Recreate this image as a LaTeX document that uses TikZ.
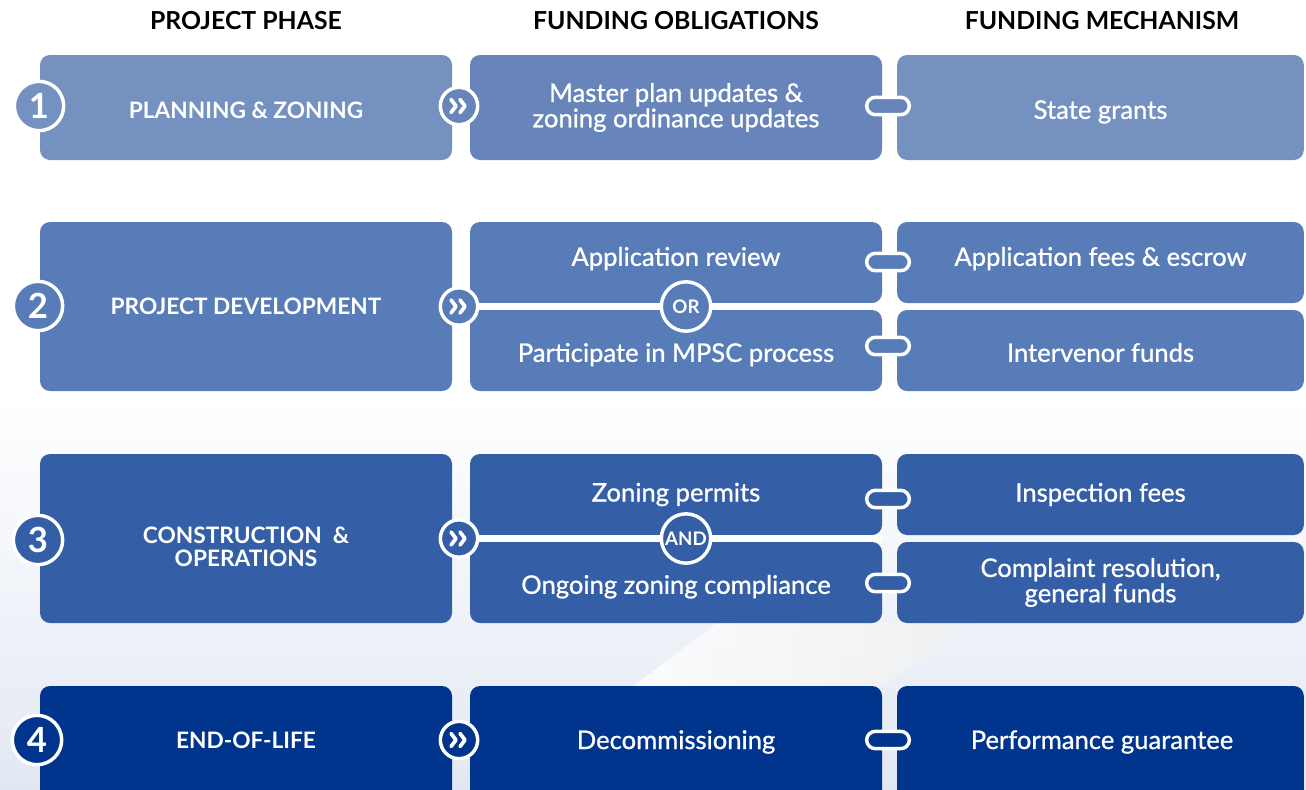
\documentclass[tikz,border=0pt]{standalone}
\usepackage{fontspec}
\setmainfont{Lato}
\newfontfamily\mediumfont{Lato}[FakeBold=0.9]
\usetikzlibrary{positioning}

\definecolor{rowA}{RGB}{116,145,192}
\definecolor{rowAmid}{RGB}{103,133,187}
\definecolor{rowB}{RGB}{88,124,183}
\definecolor{rowC}{RGB}{52,94,166}
\definecolor{rowD}{RGB}{1,52,140}
\definecolor{bgbottom}{RGB}{226,232,243}

\tikzset{
  head/.style={font=\bfseries\fontsize{18.6}{20}\selectfont, text=black},
  cell/.style={rounded corners=7.5pt, text=white, align=center, inner sep=0pt},
  phasecell/.style={cell, minimum width=309pt, font=\bfseries\fontsize{17}{17.5}\selectfont},
  dutycell/.style={cell, minimum width=309pt, font=\mediumfont\fontsize{19.2}{19}\selectfont},
  fundcell/.style={cell, minimum width=305pt, font=\mediumfont\fontsize{19.2}{19}\selectfont},
  raised/.style={text height=13pt, text depth=8pt},
  lowered/.style={text height=21pt, text depth=4pt},
  capslow/.style={text height=17pt, text depth=0pt},
  numdot/.style={circle, draw=white, line width=2.6pt, minimum size=37pt, inner sep=0pt,
    text=white, font=\bfseries\fontsize{26}{26}\selectfont},
  nextdot/.style={circle, draw=white, line width=2.6pt, minimum size=28pt, inner sep=0pt},
  chev/.style={white, line width=2.8pt, line cap=round, line join=round},
  logicdot/.style={circle, draw=white, line width=2.6pt, minimum size=37pt, inner sep=0pt,
    text=white, font=\bfseries\fontsize{14}{14}\selectfont},
  link/.style={rounded corners=6.5pt, draw=white, line width=2.6pt, minimum width=32pt,
    minimum height=13pt, inner sep=0pt},
  split/.style={white, line width=5pt}
}

% double chevron inside a step circle
\newcommand\chevrons[1]{%
  \draw[chev] ([shift={(-8,-6.5)}]#1.center) -- ++(5,6.5) -- ++(-5,6.5);
  \draw[chev] ([shift={(1,-6.5)}]#1.center) -- ++(5,6.5) -- ++(-5,6.5);
}

\begin{document}
\begin{tikzpicture}[x=0.75pt,y=-0.75pt]
  % page and background
  \useasboundingbox (0,0) rectangle (1306,789);
  \shade[top color=white, bottom color=bgbottom, middle color=white] (0,0) rectangle (1306,789);
  \shade[left color=white, right color=gray!12, opacity=0.8]
    (633,686) -- (717,623) -- (971,623) -- (883,686) -- cycle;

  % column titles
  \node[head] (hphase) at (246,21) {PROJECT PHASE};
  \node[head] (hduty)  at (676,21) {FUNDING OBLIGATIONS};
  \node[head] (hfund)  at (1102,21) {FUNDING MECHANISM};

  % row 1
  \node[phasecell, fill=rowA, minimum height=78.75pt, capslow] (plan) at (246,107.5) {PLANNING \& ZONING};
  \node[dutycell, fill=rowAmid, minimum height=78.75pt] (master) at (676,107.5)
    {Master plan updates \&\\zoning ordinance updates};
  \node[fundcell, fill=rowA, minimum height=78.75pt, lowered] (grants) at (1100.5,107.5) {State grants};
  \node[numdot, fill=rowA] (n1) at (39,106) {1};
  \node[nextdot, fill=rowAmid] (go1) at (459,106) {};
  \chevrons{go1}
  \node[link, fill=rowAmid] (k1) at (888,106) {};

  % row 2
  \node[phasecell, fill=rowB, minimum height=126.75pt] (devel) at (246,306.5) {PROJECT DEVELOPMENT};
  \node[dutycell, fill=rowB, minimum height=60.75pt, raised] (review) at (676,262.5) {Application review};
  \node[dutycell, fill=rowB, minimum height=60.75pt, lowered] (mpsc) at (676,350.5) {Participate in MPSC process};
  \node[fundcell, fill=rowB, minimum height=60.75pt, raised] (escrow) at (1100.5,262.5) {Application fees \& escrow};
  \node[fundcell, fill=rowB, minimum height=60.75pt, lowered] (interv) at (1100.5,350.5) {Intervenor funds};
  \node[nextdot, fill=rowB] (go2) at (459,306.5) {};
  \node[logicdot, fill=rowB] (or2) at (686,306.5) {OR};
  \coordinate (end2) at (882,306.5);
  \draw[split] (go2) -- (or2) -- (end2);
  \chevrons{go2}
  \node[numdot, fill=rowB] (n2) at (38,306) {2};
  \node[link, fill=rowB] (k2a) at (888,262) {};
  \node[link, fill=rowB] (k2b) at (888,346) {};

  % row 3
  \node[phasecell, fill=rowC, minimum height=126.75pt] (build) at (246,538.5)
    {\strut\\[-6pt]CONSTRUCTION\ \ \&\\OPERATIONS};
  \node[dutycell, fill=rowC, minimum height=60.75pt] (permit) at (676,494.5) {Zoning permits};
  \node[dutycell, fill=rowC, minimum height=60.75pt, lowered] (comply) at (676,582.5) {Ongoing zoning compliance};
  \node[fundcell, fill=rowC, minimum height=60.75pt] (inspect) at (1100.5,494.5) {Inspection fees};
  \node[fundcell, fill=rowC, minimum height=60.75pt] (general) at (1100.5,582.5)
    {Complaint resolution,\\general funds};
  \node[nextdot, fill=rowC] (go3) at (459,538.5) {};
  \node[logicdot, fill=rowC] (and3) at (686,538.5) {AND};
  \coordinate (end3) at (882,538.5);
  \draw[split] (go3) -- (and3) -- (end3);
  \chevrons{go3}
  \node[numdot, fill=rowC] (n3) at (38,540) {3};
  \node[link, fill=rowC] (k3a) at (888,499) {};
  \node[link, fill=rowC] (k3b) at (888,583) {};

  % row 4 runs off the bottom edge
  \node[phasecell, fill=rowD, minimum height=93pt] (eol) at (246,748) {};
  \node[dutycell, fill=rowD, minimum height=93pt] (decom) at (676,748) {};
  \node[fundcell, fill=rowD, minimum height=93pt] (bond) at (1100.5,748) {};
  \node[text=white, font=\bfseries\fontsize{17}{17.5}\selectfont] (eoltxt) at (246,740) {END-OF-LIFE};
  \node[text=white, font=\mediumfont\fontsize{19.2}{19}\selectfont] (decomtxt) at (676,742) {Decommissioning};
  \node[text=white, font=\mediumfont\fontsize{19.2}{19}\selectfont] (bondtxt) at (1102,742) {Performance guarantee};
  \node[numdot, fill=rowD] (n4) at (37,740) {4};
  \node[nextdot, fill=rowD] (go4) at (459,740) {};
  \chevrons{go4}
  \node[link, fill=rowD] (k4) at (888,740) {};
\end{tikzpicture}
\end{document}
